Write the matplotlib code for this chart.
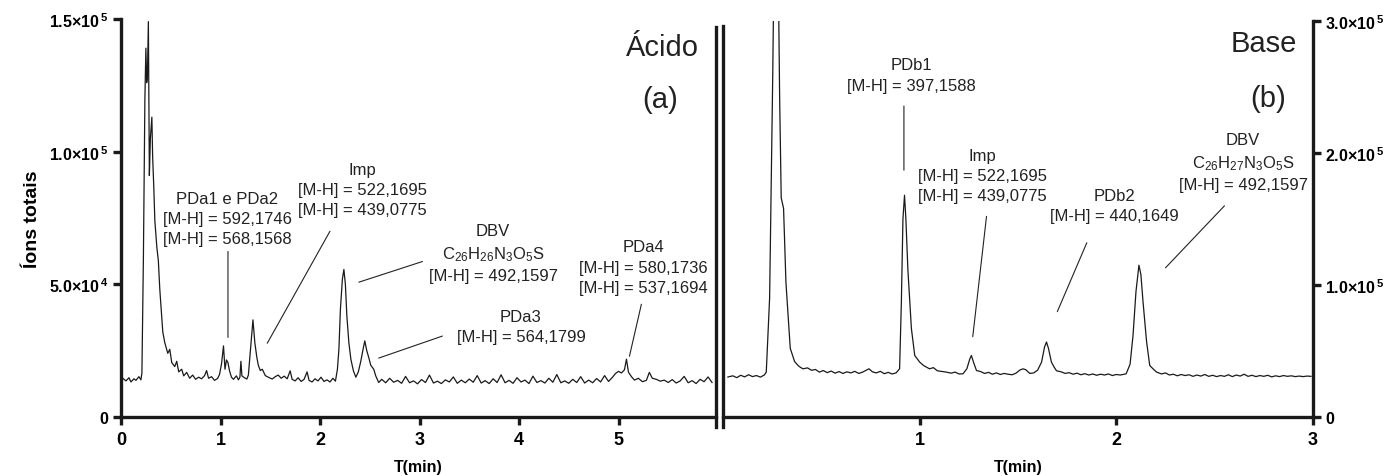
import matplotlib
matplotlib.use("Agg")
import matplotlib.pyplot as plt

plt.rcParams['font.family'] = ['Liberation Sans', 'DejaVu Sans']
plt.rcParams['mathtext.fontset'] = 'custom'
plt.rcParams['mathtext.rm'] = 'Liberation Sans'
plt.rcParams['mathtext.bf'] = 'Liberation Sans:bold'
plt.rcParams['mathtext.default'] = 'regular'

# ---- (a) acid: time (min) and total ions (x1000) ----
t_acid = [0.02, 0.05, 0.08, 0.10, 0.13, 0.15, 0.18, 0.20, 0.21,
          0.225, 0.24, 0.25, 0.258, 0.265, 0.275, 0.285, 0.295, 0.31, 0.318, 0.33,
          0.34, 0.36, 0.375, 0.39, 0.405, 0.42, 0.44, 0.47, 0.49, 0.51, 0.54, 0.56,
          0.58, 0.61, 0.63, 0.66, 0.69, 0.72, 0.75, 0.78, 0.81, 0.84, 0.86, 0.88,
          0.91, 0.94, 0.97, 0.99,
          1.01, 1.03, 1.045, 1.06, 1.075, 1.09, 1.11, 1.13, 1.16, 1.18, 1.195, 1.205,
          1.215, 1.24, 1.265, 1.28, 1.30, 1.326, 1.345, 1.365, 1.38, 1.40, 1.42, 1.45,
          1.48, 1.52, 1.55, 1.58, 1.61, 1.64, 1.67, 1.70, 1.72, 1.75, 1.78, 1.81,
          1.84, 1.87, 1.89, 1.92, 1.95, 1.98, 2.01, 2.04, 2.07, 2.10, 2.13, 2.155,
          2.175, 2.19, 2.205, 2.225, 2.24, 2.255, 2.27, 2.29, 2.31, 2.335, 2.36, 2.385,
          2.41, 2.43, 2.45, 2.47, 2.49, 2.51, 2.54, 2.56, 2.59,
          2.62, 2.66, 2.70, 2.74, 2.78, 2.82, 2.86, 2.90, 2.94, 2.98, 3.02, 3.06,
          3.10, 3.14, 3.18, 3.22, 3.26, 3.30, 3.34, 3.38, 3.42, 3.46, 3.50, 3.54,
          3.58, 3.62, 3.66, 3.70, 3.74, 3.78, 3.82, 3.86, 3.90, 3.94, 3.98, 4.02,
          4.06, 4.10, 4.14, 4.18, 4.22, 4.26, 4.30, 4.34, 4.38, 4.42, 4.46, 4.50,
          4.54, 4.58, 4.62, 4.66, 4.70, 4.74, 4.78, 4.82, 4.86, 4.90, 4.94, 4.97,
          5.00, 5.03, 5.06, 5.08, 5.10, 5.13, 5.16, 5.20, 5.24, 5.28, 5.31, 5.34,
          5.38, 5.42, 5.46, 5.50, 5.54, 5.58, 5.62, 5.66, 5.70, 5.74, 5.78, 5.82,
          5.86, 5.90, 5.94]
i_acid = [14.5, 13.6, 14.8, 13.2, 14.4, 13.8, 15.2, 14.0, 16.5,
          60, 120, 139, 126, 128, 149, 91, 105, 113, 98, 86,
          74, 64, 59, 48, 40, 32, 28, 24, 25.5, 20.5, 19, 21,
          17, 18, 15.5, 16.8, 14.6, 15.8, 14.2, 15.0, 14.4, 15.6, 17.5, 14.6,
          15.2, 13.8, 14.5, 16.0,
          20, 26.8, 18, 21.5, 20.5, 17.5, 15.0, 14.2, 15.5, 14.0, 15.0, 21.0,
          15.5, 14.8, 14.3, 15.8, 25, 36.6, 28, 22.5, 19.5, 17.5, 18.0, 15.6,
          15.0, 14.3, 15.2, 15.8, 14.6, 15.4, 14.4, 17.4, 14.2, 13.6, 14.8, 13.4,
          14.2, 17.0, 13.8, 13.2, 14.4, 13.6, 15.0, 13.4, 14.0, 13.2, 14.6, 13.5,
          18, 25.6, 40.6, 52, 55.6, 50, 38, 28, 21.8, 17.5, 15.0, 17,
          21, 25, 28.7, 25, 22.4, 19.5, 18, 15.5, 13.0,
          14.2, 12.9, 14.6, 13.1, 13.8, 12.7, 15.3, 12.9, 13.6, 12.5, 14.1, 13.0,
          15.8, 12.8, 13.5, 12.6, 14.0, 13.2, 15.1, 12.7, 13.9, 12.9, 14.3, 13.1,
          15.6, 12.8, 13.7, 12.6, 14.4, 13.0, 15.9, 12.9, 13.8, 12.7, 14.8, 13.2,
          13.9, 12.6, 15.4, 13.0, 13.7, 12.8, 14.6, 13.1, 16.0, 12.9, 13.6, 12.7,
          14.2, 13.0, 15.2, 12.8, 13.9, 12.9, 14.5, 13.2, 15.6, 13.4, 15.0, 16.4,
          17.2, 16.6, 17.8, 21.8, 16.9, 15.2, 13.9, 14.6, 13.3, 13.8, 16.8, 14.6,
          14.2, 13.5, 13.9, 13.0, 14.1, 12.8, 13.6, 15.3, 12.9, 13.7, 12.6, 14.2,
          13.3, 15.1, 13.0]

# ---- (b) base: time (min) and total ions (x1000) ----
t_base = [0.025, 0.05, 0.07, 0.09, 0.11, 0.13, 0.15, 0.17, 0.19, 0.21, 0.22, 0.237,
          0.253, 0.262, 0.278, 0.288, 0.296, 0.308, 0.32, 0.342, 0.364, 0.385, 0.406,
          0.43, 0.45, 0.47, 0.49, 0.51, 0.53, 0.55, 0.57, 0.59, 0.61, 0.63, 0.65,
          0.67, 0.69, 0.71, 0.73, 0.742, 0.76, 0.78, 0.80, 0.82, 0.84, 0.86, 0.88,
          0.898, 0.907, 0.915, 0.923, 0.93, 0.94, 0.958, 0.975, 1.0, 1.02, 1.05,
          1.07, 1.09, 1.11, 1.136, 1.16, 1.18, 1.20, 1.22, 1.24, 1.255, 1.263, 1.275,
          1.289, 1.31, 1.33, 1.35, 1.37, 1.39, 1.41, 1.43, 1.45, 1.47, 1.49, 1.51,
          1.526, 1.54, 1.56, 1.58, 1.60, 1.62, 1.635, 1.645, 1.655, 1.67, 1.685,
          1.696, 1.72, 1.74, 1.76, 1.78, 1.80, 1.82, 1.84, 1.86, 1.88, 1.90, 1.92,
          1.94, 1.96, 1.98, 2.00, 2.02, 2.05, 2.07, 2.085, 2.10, 2.115, 2.125, 2.136,
          2.154, 2.17, 2.19, 2.205, 2.23, 2.25, 2.27, 2.29, 2.31, 2.33, 2.35, 2.37,
          2.39, 2.41, 2.43, 2.45, 2.47, 2.49, 2.51, 2.53, 2.55, 2.57, 2.59, 2.61,
          2.63, 2.65, 2.67, 2.69, 2.71, 2.73, 2.75, 2.77, 2.79, 2.81, 2.83, 2.85,
          2.87, 2.89, 2.91, 2.93, 2.95, 2.97, 2.99]
i_base = [30.3, 31.2, 29.8, 31.6, 30.4, 32.0, 30.6, 31.4, 30.2, 31.8, 34, 90,
          260, 380, 380, 242, 166, 158, 102, 52, 42, 38.5, 36.5,
          37.2, 35.4, 36.0, 34.0, 35.2, 33.6, 34.8, 33.2, 34.4, 33.0, 34.2, 33.4,
          34.6, 33.0, 34.0, 35.6, 36.5, 34.2, 33.4, 34.6, 32.8, 33.8, 32.6, 33.4,
          36.5, 87, 150, 168, 150, 112, 67, 46.6, 41.6, 39, 36.5,
          37.4, 35.0, 34.6, 34.0, 33.2, 34.0, 32.6, 32.7, 36.5, 44, 46.6, 41,
          35.2, 34.4, 33.0, 33.8, 32.4, 33.4, 32.2, 33.0, 32.4, 32.0, 33.2, 35.6,
          36.5, 35.8, 33.0, 33.4, 35.5, 41.6, 53, 56.8, 52, 41.6, 37.5,
          35.0, 34.2, 33.0, 33.6, 32.4, 33.2, 32.0, 32.8, 31.8, 32.6, 31.6, 32.4,
          31.8, 32.6, 31.4, 32.2, 31.8, 32.7, 40, 61.8, 95, 115, 108, 87,
          57, 39, 36.0, 34.0, 32.6, 33.4, 31.8, 32.4, 31.2, 32.2, 31.4, 32.0,
          30.8, 31.8, 31.0, 32.2, 30.8, 31.6, 30.6, 31.4, 30.8, 32.0, 30.6, 31.8,
          31.0, 32.4, 30.8, 31.6, 30.6, 31.4, 30.8, 31.6, 30.4, 31.2, 30.6, 31.4,
          30.8, 31.2, 30.6, 31.0, 30.6, 31.0, 30.8]

yticks_acid = [0, 5e4, 1e5, 1.5e5]
ylabels_acid = ['0', r'5.0×10$^{\,4}$', r'1.0×10$^{\,5}$', r'1.5×10$^{\,5}$']
yticks_base = [0, 1e5, 2e5, 3e5]
ylabels_base = ['0', r'1.0×10$^{\,5}$', r'2.0×10$^{\,5}$', r'3.0×10$^{\,5}$']

fig = plt.figure(figsize=(13.99, 4.77), dpi=100)
ax1 = fig.add_axes([0.0865, 0.1237, 0.4253, 0.8344])
ax2 = fig.add_axes([0.5168, 0.1237, 0.4217, 0.8302])

lc = '#1a1a1a'
ax1.plot(t_acid, [v * 1000 for v in i_acid], color=lc, lw=0.9)
ax2.plot(t_base, [v * 1000 for v in i_base], color=lc, lw=0.9)

ax1.set_xlim(0, 5.98)
ax1.set_ylim(0, 1.5e5)
ax2.set_xlim(0, 3.0)
ax2.set_ylim(0, 3.0e5)

spw = 2.4
for ax in (ax1, ax2):
    for s in ax.spines.values():
        s.set_linewidth(spw)
        s.set_color('#1a1a1a')
    ax.spines['top'].set_visible(False)
    ax.tick_params(axis='both', width=spw, length=6, color='#1a1a1a')
    ax.tick_params(axis='x', labelsize=13, pad=4)
    ax.tick_params(axis='y', labelsize=11.5, pad=3)
    ax.set_xlabel('T(min)', fontsize=11.5, fontweight='bold', labelpad=8)

# broken-axis double line
ax1.spines['right'].set_bounds(-3800, 147000)
ax2.spines['left'].set_bounds(-7600, 296000)

ax1.set_xticks([0, 1, 2, 3, 4, 5])
ax1.set_yticks(yticks_acid)
ax1.set_yticklabels(ylabels_acid)
ax1.set_ylabel('Íons totais', fontsize=14, fontweight='bold', labelpad=6)

ax2.set_xticks([1, 2, 3])
ax2.yaxis.tick_right()
ax2.tick_params(axis='y', left=False, right=True)
ax2.set_yticks(yticks_base)
ax2.set_yticklabels(ylabels_base)

for ax in (ax1, ax2):
    for lab in ax.get_xticklabels() + ax.get_yticklabels():
        lab.set_fontweight('bold')

fs = 12
ls = 1.45
lw_ann = 0.8

def note(ax, txt, xy_text, p0, p1):
    ax.text(xy_text[0], xy_text[1], txt, ha='center', va='center', fontsize=fs,
            linespacing=ls, color='#222222')
    ax.annotate('', xy=p0, xytext=p1,
                arrowprops=dict(arrowstyle='-', lw=lw_ann, color='#222222',
                                shrinkA=0, shrinkB=0))

dbv_a = r'DBV' + '\n' + r'C$_{26}$H$_{26}$N$_{3}$O$_{5}$S' + '\n' + '[M-H] = 492,1597'
dbv_b = r'DBV' + '\n' + r'C$_{26}$H$_{27}$N$_{3}$O$_{5}$S' + '\n' + '[M-H] = 492,1597'

note(ax1, 'PDa1 e PDa2\n[M-H] = 592,1746\n[M-H] = 568,1568', (1.07, 74.8e3),
     (1.075, 30e3), (1.075, 62.4e3))
note(ax1, 'Imp\n[M-H] = 522,1695\n[M-H] = 439,0775', (2.43, 85.7e3),
     (1.47, 27.8e3), (2.10, 70e3))
note(ax1, dbv_a, (3.74, 61.7e3), (2.39, 50.8e3), (3.03, 58.6e3))
note(ax1, 'PDa3\n[M-H] = 564,1799', (4.02, 34.2e3), (2.59, 22.2e3), (3.23, 30.5e3))
note(ax1, 'PDa4\n[M-H] = 580,1736\n[M-H] = 537,1694', (5.25, 56.4e3),
     (5.11, 22.9e3), (5.23, 42.5e3))

note(ax2, 'PDb1\n[M-H] = 397,1588', (0.96, 259e3), (0.92, 187e3), (0.92, 235.6e3))
note(ax2, 'Imp\n[M-H] = 522,1695\n[M-H] = 439,0775', (1.32, 183e3),
     (1.27, 60.8e3), (1.34, 152e3))
note(ax2, 'PDb2\n[M-H] = 440,1649', (1.99, 160e3), (1.70, 79.8e3), (1.85, 132e3))
note(ax2, dbv_b, (2.645, 193e3), (2.25, 113e3), (2.55, 160e3))

ax1.text(5.81, 139.5e3, 'Ácido', ha='right', va='center', fontsize=21, color='#222222')
ax1.text(5.42, 120e3, '(a)', ha='center', va='center', fontsize=21, color='#222222')
ax2.text(2.75, 283.5e3, 'Base', ha='center', va='center', fontsize=21, color='#222222')
ax2.text(2.77, 241.7e3, '(b)', ha='center', va='center', fontsize=21, color='#222222')

fig.savefig('out.png', dpi=100)
